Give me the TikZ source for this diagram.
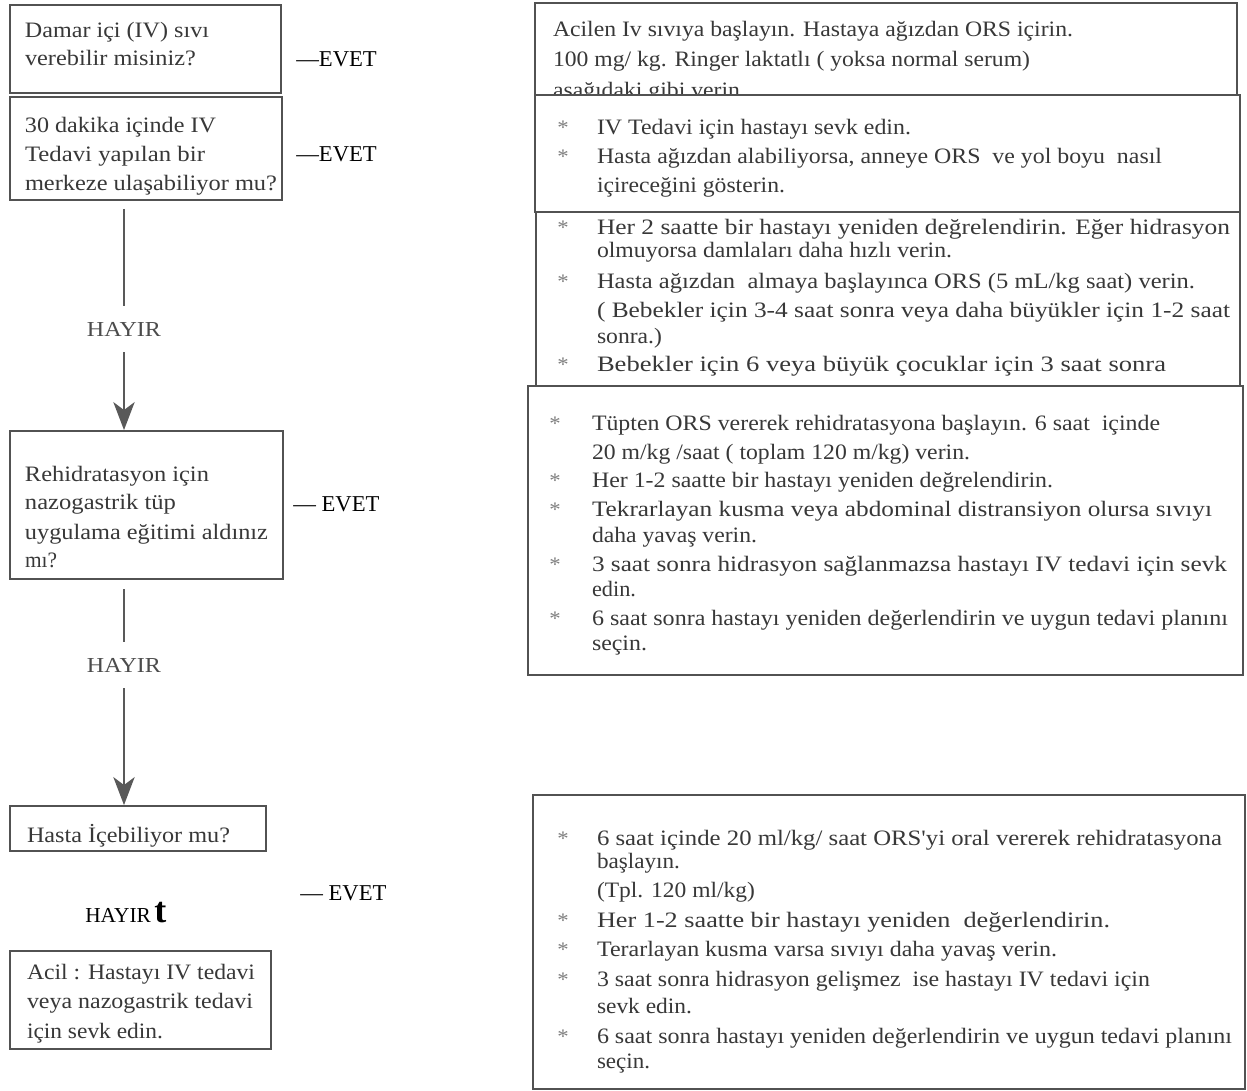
\documentclass[tikz,border=0pt]{standalone}
\usepackage{fontspec}
\setmainfont{Liberation Serif}
\newfontfamily\scanfont[FakeStretch=1.1]{Liberation Serif}
\usetikzlibrary{arrows.meta,fit}
\newdimen\pxu \pxu=0.75pt
\newdimen\slw
\newcommand{\sline}[5]{\slw=\dimexpr\pxu*\numexpr#5-#2\relax\relax
  \node[txt] (#1) at (#2,#3) {\resizebox{\slw}{\height}{#4}};}
\begin{document}
\begin{tikzpicture}[x=0.75pt,y=-0.75pt,
  box/.style={draw=black!68, line width=1.4pt, inner sep=0pt, fill=white},
  txt/.style={anchor=base west, inner sep=0pt, outer sep=0pt, text=black!78,
    font=\scanfont\fontsize{16.5pt}{19pt}\selectfont},
  bul/.style={anchor=base west, inner sep=0pt, text=black!50,
    font=\scanfont\fontsize{15.5pt}{18pt}\selectfont},
  lab/.style={anchor=base west, inner sep=0pt, text=black,
    font=\fontsize{17pt}{20pt}\selectfont},
  hay/.style={anchor=center, inner xsep=0pt, inner ysep=12pt, text=black!70,
    font=\scanfont\fontsize{16pt}{18pt}\selectfont},
  conn/.style={draw=black!65, line width=1.2pt},
  tip/.style={-{Stealth[length=21pt,width=16pt,inset=6pt]}}]
\useasboundingbox[fill=white] (0,0) rectangle (1247,1091);

% ---------- left column ----------
\node[box, fit={(10,5) (281,93)}] (A) {};
\sline{la1}{25}{38}{Damar içi (IV) sıvı}{209}
\sline{la2}{25}{66}{verebilir misiniz?}{196}

\node[box, fit={(10,97) (282,200)}] (B) {};
\sline{lb1}{25}{133}{30 dakika içinde IV}{216}
\sline{lb2}{25}{162}{Tedavi yapılan bir}{205}
\sline{lb3}{25}{191}{merkeze ulaşabiliyor mu?}{277}

\node[hay] (hay1) at (124,329) {\resizebox{74\pxu}{\height}{HAYIR}};

\node[box, fit={(10,431) (283,579)}] (C) {};
\sline{lc1}{25}{482}{Rehidratasyon için}{209}
\sline{lc2}{25}{510}{nazogastrik tüp}{176}
\sline{lc3}{25}{540}{uygulama eğitimi aldınız}{268}
\sline{lc4}{25}{567}{mı?}{57}

\node[hay] (hay2) at (124,665) {\resizebox{74\pxu}{\height}{HAYIR}};

\node[box, fit={(10,806) (266,851)}] (D) {};
\sline{ld1}{27}{842}{Hasta İçebiliyor mu?}{230}

\node[box, fit={(10,951) (271,1049)}] (E) {};
\sline{le1}{27}{979}{Acil : Hastayı IV tedavi}{255}
\sline{le2}{27}{1008}{veya nazogastrik tedavi}{253}
\sline{le3}{27}{1038}{için sevk edin.}{163}

% connectors
\draw[conn, shorten <=6pt] (B.south -| hay1) -- (hay1.north);
\draw[conn, tip, fill=black!70] (hay1.south) -- (C.north -| hay1);
\draw[conn, shorten <=7pt] (C.south -| hay2) -- (hay2.north);
\draw[conn, tip, fill=black!70] (hay2.south) -- (D.north -| hay2);

% labels
\node[lab] (ev1) at (296,67) {—EVET};
\node[lab] (ev2) at (296,162) {—EVET};
\node[lab] (ev3) at (293,512) {— EVET};
\node[lab] (ev4) at (300,900) {— EVET};
\node[lab, font=\fontsize{16pt}{19pt}\selectfont] (hy) at (85,922)
  {HAYIR\,{\fontsize{27pt}{29pt}\selectfont\bfseries t}};

% ---------- right column ----------
\node[box, fit={(535,3) (1237,96)}] (R1) {};
\sline{r1a}{553}{37}{Acilen Iv sıvıya başlayın. Hastaya ağızdan ORS içirin.}{1073}
\sline{r1b}{553}{67}{100 mg/ kg. Ringer laktatlı ( yoksa normal serum)}{1030}
\sline{r1c}{553}{98}{aşağıdaki gibi verin}{740}

\node[box, fit={(535,95) (1240,212)}] (R2) {};
\node[bul] (r2s1) at (557,135) {*};
\node[bul] (r2s2) at (557,164) {*};
\sline{r2a}{597}{135}{IV Tedavi için hastayı sevk edin.}{911}
\sline{r2b}{597}{164}{Hasta ağızdan alabiliyorsa, anneye ORS\ \ ve yol boyu\ \ nasıl}{1162}
\sline{r2c}{597}{193}{içireceğini gösterin.}{785}

\node[box, fit={(536,212) (1240,386)}] (R3) {};
\node[bul] (r3s1) at (557,235) {*};
\node[bul] (r3s2) at (557,289) {*};
\node[bul] (r3s3) at (557,372) {*};
\sline{r3a}{597}{235}{Her 2 saatte bir hastayı yeniden değrelendirin. Eğer hidrasyon}{1230}
\sline{r3b}{597}{258}{olmuyorsa damlaları daha hızlı verin.}{952}
\sline{r3c}{597}{289}{Hasta ağızdan\ \ almaya başlayınca ORS (5 mL/kg saat) verin.}{1195}
\sline{r3d}{597}{318}{( Bebekler için 3-4 saat sonra veya daha büyükler için 1-2 saat}{1230}
\sline{r3e}{597}{344}{sonra.)}{662}
\sline{r3f}{597}{372}{Bebekler için 6 veya büyük çocuklar için 3 saat sonra}{1166}

\node[box, fit={(528,386) (1243,675)}] (R4) {};
\node[bul] (r4s1) at (549,431) {*};
\node[bul] (r4s2) at (549,488) {*};
\node[bul] (r4s3) at (549,517) {*};
\node[bul] (r4s4) at (549,571) {*};
\node[bul] (r4s5) at (549,625) {*};
\sline{r4a}{592}{431}{Tüpten ORS vererek rehidratasyona başlayın. 6 saat\ \ içinde}{1160}
\sline{r4b}{592}{460}{20 m/kg /saat ( toplam 120 m/kg) verin.}{970}
\sline{r4c}{592}{488}{Her 1-2 saatte bir hastayı yeniden değrelendirin.}{1053}
\sline{r4d}{592}{517}{Tekrarlayan kusma veya abdominal distransiyon olursa sıvıyı}{1212}
\sline{r4e}{592}{542}{daha yavaş verin.}{757}
\sline{r4f}{592}{571}{3 saat sonra hidrasyon sağlanmazsa hastayı IV tedavi için sevk}{1227}
\sline{r4g}{592}{596}{edin.}{636}
\sline{r4h}{592}{625}{6 saat sonra hastayı yeniden değerlendirin ve uygun tedavi planını}{1228}
\sline{r4i}{592}{650}{seçin.}{647}

\node[box, fit={(533,795) (1245,1089)}] (R5) {};
\node[bul] (r5s1) at (557,845) {*};
\node[bul] (r5s2) at (557,927) {*};
\node[bul] (r5s3) at (557,956) {*};
\node[bul] (r5s4) at (557,986) {*};
\node[bul] (r5s5) at (557,1043) {*};
\sline{r5a}{597}{845}{6 saat içinde 20 ml/kg/ saat ORS'yi oral vererek rehidratasyona}{1222}
\sline{r5b}{597}{868}{başlayın.}{680}
\sline{r5c}{597}{897}{(Tpl. 120 ml/kg)}{755}
\sline{r5d}{597}{927}{Her 1-2 saatte bir hastayı yeniden\ \ değerlendirin.}{1110}
\sline{r5e}{597}{956}{Terarlayan kusma varsa sıvıyı daha yavaş verin.}{1057}
\sline{r5f}{597}{986}{3 saat sonra hidrasyon gelişmez\ \ ise hastayı IV tedavi için}{1150}
\sline{r5g}{597}{1013}{sevk edin.}{692}
\sline{r5h}{597}{1043}{6 saat sonra hastayı yeniden değerlendirin ve uygun tedavi planını}{1232}
\sline{r5i}{597}{1068}{seçin.}{650}
\end{tikzpicture}
\end{document}
